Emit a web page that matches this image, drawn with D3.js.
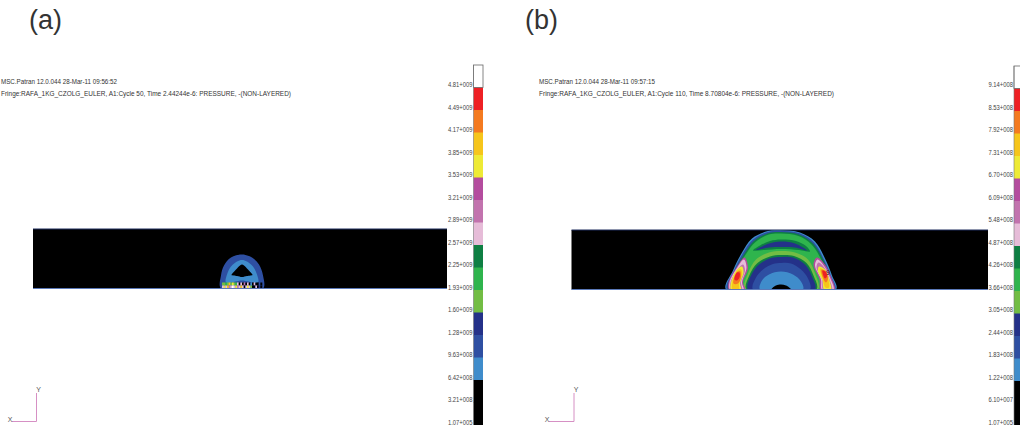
<!DOCTYPE html>
<html>
<head>
<meta charset="utf-8">
<script src="https://cdn.jsdelivr.net/npm/d3@7"></script>
<style>
  html, body { margin: 0; padding: 0; background: #fff; overflow: hidden; }
  text { font-family: "Liberation Sans", Arial, sans-serif; }
</style>
</head>
<body>
<div id="chart"></div>
<script>
// Fringe colours, top of the bar to the bottom
const fringeColors = ["#ffffff", "#ee2024", "#f47a20", "#f6c51b", "#eeea35", "#b44c9e", "#c273ae", "#e6bcd8",
                      "#0e7f43", "#2fb44d", "#72bd44", "#243189", "#2e4fa2", "#3f8ccb", "#000000", "#000000"];

// Tick labels
const ticksA = ["4.81+009", "4.49+009", "4.17+009", "3.85+009", "3.53+009", "3.21+009", "2.89+009", "2.57+009",
                "2.25+009", "1.93+009", "1.60+009", "1.28+009", "9.63+008", "6.42+008", "3.21+008", "1.07+005"];
const ticksB = ["9.14+008", "8.53+008", "7.92+008", "7.31+008", "6.70+008", "6.09+008", "5.48+008", "4.87+008",
                "4.26+008", "3.66+008", "3.05+008", "2.44+008", "1.83+008", "1.22+008", "6.10+007", "1.07+005"];

// Contours: [distance from the blast centre, height above the bottom edge]
// each one is [fringe band index, points], painted outer to inner
const contoursA = [
  [12, [[-21,0],[-21,13],[-18,23],[-11,31],[0,34],[10,31],[17,24],[21,13],[21,0]]],
  [13, [[-16,6],[-15,14],[-11,22],[-5,27],[0,28.5],[5,27],[11,22],[15,14],[16,6],[0,8]]],
  [14, [[0,24],[-2,23],[-6,19],[-10,14.5],[-10.5,13.5],[-5,12.5],[0,11.5],[5,12.5],[10.5,13.5],[10,14.5],[6,19],[2,23]]]
];
const contoursB = [
  [13, [[-55,0],[-48,19],[-39,37],[-29,51],[-13,58.5],[-1,59.5],[19,57],[34,48],[44,31],[51,14],[55,0]]],
  [12, [[-54,0],[-47,19],[-38,36.5],[-28,50],[-12.5,57.8],[-1,58.8],[18.5,56.3],[33,47],[43,30],[50,13.5],[54,0]]],
  [8,  [[-52.5,0],[-45.5,19],[-36.5,36],[-26.5,49],[-12,56.5],[0,57.5],[18,55],[32,46],[42,30],[49,13],[53,0]]],
  [9,  [[-51,0],[-44,19],[-35,35.5],[-25.5,47.5],[-12,55],[0,56],[17.5,53.5],[30.5,45],[40.5,29.5],[47.5,13],[51,0]]],
  [10, [[-36,0],[-33,16],[-25,30],[-12,37],[0,38.5],[14,37],[27,30],[34,16],[37,0]]],
  [8,  [[-28,39],[-21,44],[-11,48.5],[0,50],[15,48.5],[25,43.5],[29,38],[18,39.5],[0,40.5],[-17,39.5]]],
  [11, [[-25,39.5],[-12,46],[0,48],[14,46],[26,39],[14,42],[0,42.5],[-12,42]]],
  [8,  [[-34.5,0],[-31.5,14.5],[-23.5,26.5],[-11,33],[0,34.5],[13,33.5],[25.5,26.5],[32.5,14],[35.5,0]]],
  [11, [[-33,0],[-30,14],[-22,25],[-10,31.5],[0,32.5],[12,32],[24,25],[31,13],[34,0]]],
  [12, [[-28,0],[-25,12],[-18,20],[-8,25.5],[0,26.5],[10,26],[20,20],[27,11],[29,0]]],
  [13, [[-21,0],[-19,9],[-12,15],[0,18],[12,15],[20,8],[22,0]]],
  [14, [[-9.5,0],[-5,4],[0,5],[5,4],[10,0]]],
  // left hot spot
  [5,  [[-52,0],[-52.5,7],[-44.5,22],[-36.5,32],[-33,22],[-38,7],[-36,0]]],
  [7,  [[-51,0],[-51.5,7],[-44,21.5],[-37,30],[-34.5,22],[-39,7],[-37.5,0]]],
  [6,  [[-50.5,0],[-50.5,7],[-43.5,20],[-38,25],[-36,19],[-40,7],[-39,0]]],
  [4,  [[-50,0],[-50,7],[-44,20],[-39,23],[-37.5,17],[-41,6],[-40,0]]],
  [3,  [[-48.5,0],[-48.5,8],[-43.5,19],[-40,20],[-39,15],[-42,5],[-42,0]]],
  [2,  [[-47.5,6],[-44.5,17],[-41,18.5],[-40,13],[-43,6]]],
  [1,  [[-46.5,10],[-44,17],[-41.5,17],[-41.5,12],[-44,9]]],
  // right hot spot
  [5,  [[36,32],[44,25],[49.5,14],[54,2],[53.5,0],[39.5,0],[38.5,10],[32.5,25]]],
  [7,  [[36.5,30],[43.5,23],[49,12],[52.5,0],[41,0],[40,10],[34,24]]],
  [6,  [[37.5,27],[44,21],[48.5,10],[51,0],[42,0],[41,10],[35.5,22]]],
  [4,  [[38,23],[44,20],[48.5,9],[50,0],[43,0],[41.5,9],[37,18]]],
  [3,  [[39,21],[44,19],[47.5,9],[48,2],[44.5,2],[41.5,11]]],
  [2,  [[40.5,20],[45,18],[47,11],[45,7],[41.5,13]]],
  [1,  [[41.5,19],[44.5,18],[46,13],[44,11],[42,15]]]
];

// Mixed-up cells along the bottom edge of panel (a), two rows
const stripUpperA = [10, 10, 9, 10, 3, 10, 4, 10, 9, 7, 14, 7, 14, 6, 14, 7, 14, 13, 14, 7, 14, 14, 12, 14];
const stripLowerA = [7, 4, 7, 3, 6, 7, 0, 7, 4, 6, 7, 3, 7, 14, 7, 4, 7, 10, 14, 14, 7, 14, 11, 14];

const panels = [
  { title: "(a)", titleX: 29, line1: "MSC.Patran 12.0.044 28-Mar-11 09:56:52",
    line2: "Fringe:RAFA_1KG_CZOLG_EULER, A1:Cycle 50, Time 2.44244e-6: PRESSURE, -(NON-LAYERED)",
    textX: 1, w1: 116, w2: 290, left: 33, right: 447, top: 229, bottom: 288.5, centre: 242,
    barX: 473.5, barW: 9.5, barTop: 65, labelGap: 2.5, ticks: ticksA, contours: contoursA,
    strips: [stripUpperA, stripLowerA], triadX: 36.5, triadStart: 12 },
  { title: "(b)", titleX: 525, line1: "MSC.Patran 12.0.044 28-Mar-11 09:57:15",
    line2: "Fringe:RAFA_1KG_CZOLG_EULER, A1:Cycle 110, Time 8.70804e-6: PRESSURE, -(NON-LAYERED)",
    textX: 539, w1: 116, w2: 295, left: 571.5, right: 988, top: 230, bottom: 289.5, centre: 781,
    barX: 1014, barW: 9.5, barTop: 66, labelGap: 3.5, ticks: ticksB, contours: contoursB,
    strips: null, triadX: 574, triadStart: 549 }
];

const width = 1020, height = 425;
const svg = d3.select("#chart").append("svg")
    .attr("width", width)
    .attr("height", height)
    .style("display", "block");

panels.forEach(p => {
  const g = svg.append("g");

  g.append("text")
      .attr("x", p.titleX)
      .attr("y", 29)
      .style("font-size", "27px")
      .style("fill", "#333")
      .text(p.title);

  g.append("text").attr("x", p.textX).attr("y", 84)
      .attr("textLength", p.w1).attr("lengthAdjust", "spacingAndGlyphs")
      .style("font-size", "6.6px").style("fill", "#333").text(p.line1);
  g.append("text").attr("x", p.textX).attr("y", 96)
      .attr("textLength", p.w2).attr("lengthAdjust", "spacingAndGlyphs")
      .style("font-size", "6.6px").style("fill", "#333").text(p.line2);

  // Plot area, data units are pixels-ish from the blast centre
  const x = d3.scaleLinear().domain([p.left - p.centre, p.right - p.centre]).range([p.left, p.right]);
  const y = d3.scaleLinear().domain([0, p.bottom - p.top]).range([p.bottom, p.top]);

  g.append("rect")
      .attr("x", p.left).attr("y", p.top)
      .attr("width", p.right - p.left).attr("height", p.bottom - p.top)
      .attr("fill", "#000");

  const clipId = "clip" + p.title.charAt(1);
  g.append("clipPath").attr("id", clipId).append("rect")
      .attr("x", p.left).attr("y", p.top)
      .attr("width", p.right - p.left).attr("height", p.bottom - p.top);

  const outline = d3.line()
      .x(d => x(d[0]))
      .y(d => y(d[1]))
      .curve(d3.curveCatmullRomClosed.alpha(0.5));

  g.append("g").attr("clip-path", `url(#${clipId})`)
    .selectAll("path")
    .data(p.contours)
    .enter()
    .append("path")
      .attr("d", d => outline(d[1]))
      .attr("fill", d => fringeColors[d[0]]);

  if (p.strips) {
    p.strips.forEach((row, r) => {
      const stripX = d3.scaleBand().domain(d3.range(row.length)).range([x(-20), x(20)]);
      g.append("g").selectAll("rect")
        .data(row)
        .enter()
        .append("rect")
          .attr("x", (d, i) => stripX(i))
          .attr("y", y(6 - r * 3))
          .attr("width", stripX.bandwidth() + 0.3)
          .attr("height", y(3) - y(6))
          .attr("fill", d => fringeColors[d]);
    });
  } else {
    g.append("text")
        .attr("x", x(45)).attr("y", y(15))
        .style("font-size", "7px").style("fill", "#222")
        .text("9");
  }

  // Edge lines of the model
  g.append("line").attr("x1", p.left).attr("x2", p.right).attr("y1", p.bottom).attr("y2", p.bottom)
      .attr("stroke", "#5b79b8").attr("stroke-width", 1);
  g.append("line").attr("x1", p.left).attr("x2", p.right).attr("y1", p.top).attr("y2", p.top)
      .attr("stroke", "#1d2a5a").attr("stroke-width", 1);

  // Colour bar
  const barY = d3.scaleBand().domain(p.ticks).range([p.barTop, p.barTop + 22.5 * p.ticks.length]);
  g.append("g").selectAll("rect")
    .data(p.ticks)
    .enter()
    .append("rect")
      .attr("x", p.barX)
      .attr("y", d => barY(d))
      .attr("width", p.barW)
      .attr("height", barY.bandwidth() + 0.5)
      .attr("fill", (d, i) => fringeColors[i]);
  g.append("rect")
      .attr("x", p.barX).attr("y", p.barTop)
      .attr("width", p.barW).attr("height", barY.bandwidth())
      .attr("fill", "none").attr("stroke", "#666").attr("stroke-width", 0.8);
  g.append("line")
      .attr("x1", p.barX).attr("x2", p.barX)
      .attr("y1", p.barTop).attr("y2", height)
      .attr("stroke", "#777").attr("stroke-width", 0.6);

  g.append("g").selectAll("text")
    .data(p.ticks)
    .enter()
    .append("text")
      .attr("x", p.barX - 25.5)
      .attr("y", d => barY(d) + barY.bandwidth() - p.labelGap)
      .attr("dy", ".35em")
      .attr("textLength", 24.5)
      .attr("lengthAdjust", "spacingAndGlyphs")
      .style("font-size", "6.6px")
      .style("fill", "#444")
      .text(d => d);

  // Coordinate triad
  g.append("path")
      .attr("d", `M${p.triadStart},421.5H${p.triadX}V393`)
      .attr("fill", "none")
      .attr("stroke", "#d690c4")
      .attr("stroke-width", 1);
  g.append("text").attr("x", p.triadX + 2).attr("y", 392)
      .attr("text-anchor", "middle")
      .style("font-size", "7px").style("fill", "#555").text("Y");
  g.append("text").attr("x", p.triadStart - 2).attr("y", 422)
      .attr("text-anchor", "middle")
      .style("font-size", "7px").style("fill", "#555").text("X");
});
</script>
</body>
</html>
